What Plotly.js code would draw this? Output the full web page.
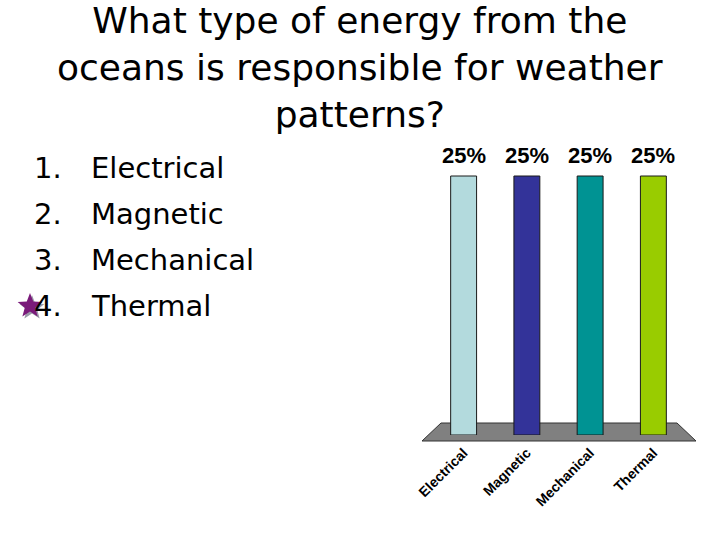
<!DOCTYPE html>
<html>
<head>
<meta charset="utf-8">
<script src="https://cdn.plot.ly/plotly-3.0.1.min.js"></script>
<style>html,body{margin:0;padding:0;background:#fff;}#chart{width:720px;height:540px;}</style>
</head>
<body>
<div id="chart"></div>
<script>
const categories = ["Electrical", "Magnetic", "Mechanical", "Thermal"];
const percents = [25, 25, 25, 25];
const barColors = ["#b3dadd", "#333399", "#009393", "#99cc00"];
const titleText = "What type of energy from the<br>oceans is responsible for weather<br>patterns?";
const listNumbers = ["1.", "2.", "3.", "4."];
const listItems = ["Electrical", "Magnetic", "Mechanical", "Thermal"];
const correctIndex = 3;

const W = 720, H = 540;
const px = x => x / W;
const py = y => 1 - y / H;

function starPath(cx, cy, ro, ri) {
  let d = "";
  for (let k = 0; k < 10; k++) {
    const r = k % 2 === 0 ? ro : ri;
    const a = -Math.PI / 2 + k * Math.PI / 5;
    const x = cx + r * Math.cos(a), y = cy + r * Math.sin(a);
    d += (k === 0 ? "M " : " L ") + px(x).toFixed(5) + " " + py(y).toFixed(5);
  }
  return d + " Z";
}

const annotations = [];
annotations.push({
  xref: "paper", yref: "paper", x: px(360), y: py(68), xanchor: "center", yanchor: "middle",
  text: titleText, showarrow: false, align: "center",
  font: {family: "DejaVu Sans", size: 36, color: "#000"}
});
listItems.forEach((t, i) => {
  const yy = 168 + i * 46;
  annotations.push({xref: "paper", yref: "paper", x: px(64), y: py(yy), xanchor: "right", yanchor: "middle",
    text: listNumbers[i], showarrow: false, font: {family: "DejaVu Sans", size: 29, color: "#000"}});
  annotations.push({xref: "paper", yref: "paper", x: px(89), y: py(yy), xanchor: "left", yanchor: "middle",
    text: t, showarrow: false, font: {family: "DejaVu Sans", size: 29, color: "#000"}});
});
categories.forEach((c, i) => {
  annotations.push({xref: "x", yref: "y", x: c, y: percents[i], xanchor: "center", yanchor: "bottom",
    yshift: 6, text: percents[i] + "%", showarrow: false,
    font: {family: "Liberation Sans", size: 22, color: "#000", weight: "bold"}});
});

const trace = {
  type: "bar", x: categories, y: percents,
  marker: {color: barColors, line: {color: "#1a1a1a", width: 1}},
  hoverinfo: "none"
};

const sy = 168 + correctIndex * 46;
const layout = {
  width: W, height: H,
  margin: {l: 0, r: 0, t: 0, b: 0},
  paper_bgcolor: "#fff", plot_bgcolor: "rgba(0,0,0,0)",
  showlegend: false,
  bargap: 0.59,
  xaxis: {
    domain: [px(432), px(685)],
    showgrid: false, zeroline: false, showline: false, ticks: "",
    tickangle: -45, ticklabelstandoff: 6,
    tickfont: {family: "Liberation Sans", size: 14, color: "#000", weight: "bold"}
  },
  yaxis: {
    domain: [py(435), py(130)],
    range: [0, 25 * (435 - 130) / (435 - 176)],
    visible: false, showgrid: false, zeroline: false
  },
  shapes: [{
    type: "path", xref: "paper", yref: "paper", layer: "below",
    path: `M ${px(422)} ${py(441)} L ${px(441)} ${py(423)} L ${px(677)} ${py(423)} L ${px(696)} ${py(441)} Z`,
    fillcolor: "#808080", line: {color: "#333", width: 1}
  }, {
    type: "path", xref: "paper", yref: "paper", layer: "above",
    path: starPath(32, sy + 2, 13, 5.5), fillcolor: "#9a9aa8", line: {width: 0}
  }, {
    type: "path", xref: "paper", yref: "paper", layer: "above",
    path: starPath(30, sy, 13, 5.5), fillcolor: "#7a1a7a", line: {width: 0}
  }],
  annotations: annotations
};

Plotly.newPlot("chart", [trace], layout, {displayModeBar: false, staticPlot: true});
</script>
</body>
</html>
